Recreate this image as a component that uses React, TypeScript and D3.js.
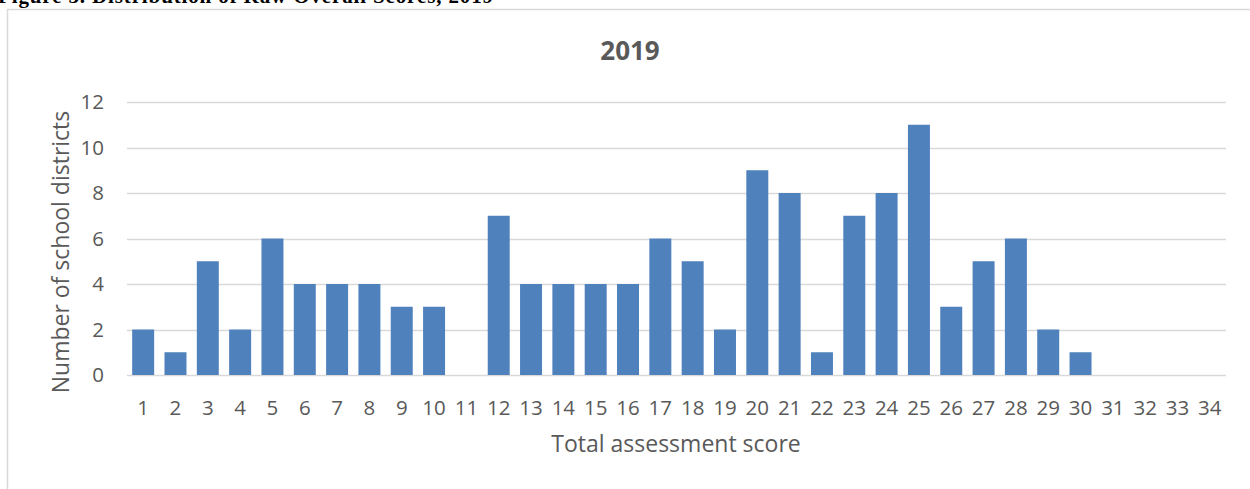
import React from "react";
import * as d3 from "d3";

const categories: string[] = Array.from({ length: 34 }, (_, i) => String(i + 1));
const counts: number[] = [2, 1, 5, 2, 6, 4, 4, 4, 3, 3, 0, 7, 4, 4, 4, 4, 6, 5, 2, 9, 8, 1, 7, 8, 11, 3, 5, 6, 2, 1, 0, 0, 0, 0];
const yTicks: number[] = [0, 2, 4, 6, 8, 10, 12];
const chartTitle = "2019";
const xTitle = "Total assessment score";
const yTitle = "Number of school districts";
const caption = "Figure 3. Distribution of Raw Overall Scores, 2019";

const W = 1250;
const H = 489;
const plot = { left: 127, right: 1226, top: 102, bottom: 375 };
const font = "'Open Sans', sans-serif";

export default function App() {
  const x = d3.scaleBand<string>().domain(categories).range([plot.left, plot.right]).paddingInner(0.32).paddingOuter(0.16);
  const y = d3.scaleLinear().domain([0, 12]).range([plot.bottom, plot.top]);
  return (
    <svg width={W} height={H} style={{ position: "absolute", left: 0, top: 0, background: "#fff" }}>
      <text x={-2} y={3} fontFamily="'Liberation Serif', serif" fontWeight="bold" fontSize={21} fill="#000" textLength={495}>{caption}</text>
      <rect x={7.5} y={9.5} width={W + 10} height={H + 10} fill="#fff" stroke="#d9d9d9" strokeWidth={1.5} />
      <text x={630} y={60} textAnchor="middle" fontFamily={font} fontWeight="bold" fontSize={26} fill="#595959">{chartTitle}</text>
      {yTicks.map((t) => (
        <g key={t}>
          <line x1={plot.left} x2={plot.right} y1={Math.round(y(t)) + 0.5} y2={Math.round(y(t)) + 0.5} stroke="#d9d9d9" strokeWidth={1.3} />
          <text x={104} y={y(t)} dy="0.36em" textAnchor="end" fontFamily={font} fontSize={20.5} fill="#595959">{t}</text>
        </g>
      ))}
      {counts.map((c, i) => (
        <rect key={i} x={x(categories[i])} y={y(c)} width={x.bandwidth()} height={y(0) - y(c)} fill="#4f81bd" />
      ))}
      {categories.map((c) => (
        <text key={c} x={(x(c) as number) + x.bandwidth() / 2} y={415} textAnchor="middle" fontFamily={font} fontSize={20.5} fill="#595959">{c}</text>
      ))}
      <text x={676} y={452} textAnchor="middle" fontFamily={font} fontSize={23} fill="#595959">{xTitle}</text>
      <text transform={`translate(69,252) rotate(-90)`} textAnchor="middle" fontFamily={font} fontSize={23} fill="#595959">{yTitle}</text>
    </svg>
  );
}
